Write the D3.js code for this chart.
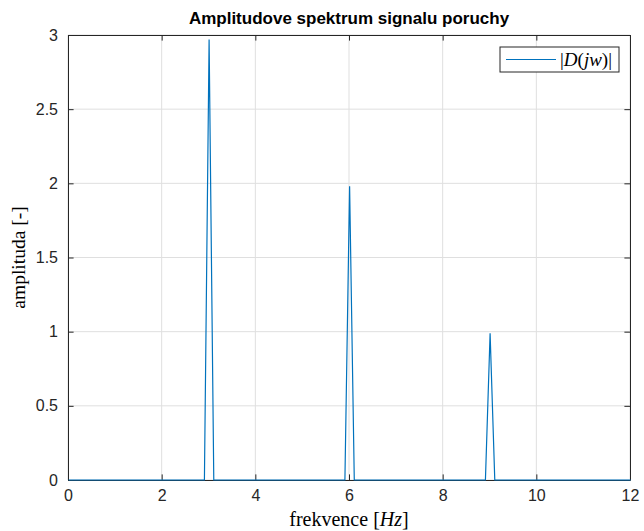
<!DOCTYPE html>
<html><head><meta charset="utf-8">
<script src="https://cdn.jsdelivr.net/npm/d3@7"></script>
<style>body{margin:0;background:#fff}svg{display:block}</style>
</head><body>
<script>
const freq = [0, 2.9, 3.0, 3.1, 5.9, 6.0, 6.1, 8.9, 9.0, 9.1, 12];
const ampl = [0, 0, 2.97, 0, 0, 1.98, 0, 0, 0.99, 0, 0];
const xTicks = [0, 2, 4, 6, 8, 10, 12];
const yTicks = [0, 0.5, 1, 1.5, 2, 2.5, 3];
const yTickLabels = ["0", "0.5", "1", "1.5", "2", "2.5", "3"];

const W = 644, H = 531;
const m = {l: 68, r: 14, t: 35, b: 51};
const svg = d3.select("body").append("svg").attr("width", W).attr("height", H);
const x = d3.scaleLinear().domain([0, 12]).range([m.l, W - m.r]);
const y = d3.scaleLinear().domain([0, 3]).range([H - m.b, m.t]);
const ax = "#262626";

// grid
const g = svg.append("g");
g.selectAll(".gx").data(xTicks).enter().append("line")
  .attr("x1", d => x(d)).attr("x2", d => x(d)).attr("y1", y(0)).attr("y2", y(3))
  .attr("stroke", "#dfdfdf").attr("stroke-width", 1);
g.selectAll(".gy").data(yTicks).enter().append("line")
  .attr("y1", d => y(d)).attr("y2", d => y(d)).attr("x1", x(0)).attr("x2", x(12))
  .attr("stroke", "#dfdfdf").attr("stroke-width", 1);

// axes
const xa = svg.append("g").attr("transform", `translate(0,${y(0)})`)
  .call(d3.axisBottom(x).tickValues(xTicks).tickSizeInner(-5.6).tickSizeOuter(0).tickPadding(10));
const xt = svg.append("g").attr("transform", `translate(0,${y(3)})`)
  .call(d3.axisTop(x).tickValues(xTicks).tickSizeInner(-5.6).tickSizeOuter(0).tickFormat(""));
const ya = svg.append("g").attr("transform", `translate(${x(0)},0)`)
  .call(d3.axisLeft(y).tickValues(yTicks).tickSizeInner(-5.6).tickSizeOuter(0).tickPadding(10)
    .tickFormat((d, i) => yTickLabels[i]));
const yr = svg.append("g").attr("transform", `translate(${x(12)},0)`)
  .call(d3.axisRight(y).tickValues(yTicks).tickSizeInner(-5.6).tickSizeOuter(0).tickFormat(""));
[xa, xt, ya, yr].forEach(a => {
  a.selectAll("path").attr("stroke", ax).attr("stroke-width", 1);
  a.selectAll("line").attr("stroke", ax).attr("stroke-width", 1);
  a.selectAll("text").attr("fill", ax).attr("font-family", "Liberation Sans, Arial, sans-serif").attr("font-size", 16);
});
xa.selectAll("text").attr("dy", "0.71em");

// line
svg.append("path").datum(freq.map((f, i) => [f, ampl[i]]))
  .attr("d", d3.line().x(d => x(d[0]) + 0.6).y(d => y(d[1])))
  .attr("fill", "none").attr("stroke", "#0072BD").attr("stroke-width", 1.2);

// title
svg.append("text").attr("x", (x(0) + x(12)) / 2).attr("y", 24).attr("text-anchor", "middle")
  .attr("font-family", "Liberation Sans, Arial, sans-serif").attr("font-weight", "bold")
  .attr("font-size", 17).attr("fill", "#000").text("Amplitudove spektrum signalu poruchy");

// x label
const xl = svg.append("text").attr("x", (x(0) + x(12)) / 2).attr("y", 526).attr("text-anchor", "middle")
  .attr("font-family", "Liberation Serif, serif").attr("font-size", 20).attr("fill", "#000");
xl.append("tspan").text("frekvence ");
xl.append("tspan").text("[");
xl.append("tspan").attr("font-style", "italic").text("Hz");
xl.append("tspan").text("]");

// y label
svg.append("text").attr("transform", `translate(25,${(y(0) + y(3)) / 2}) rotate(-90)`).attr("text-anchor", "middle")
  .attr("font-family", "Liberation Serif, serif").attr("font-size", 19.5).attr("fill", "#000")
  .text("amplituda [-]");

// legend
const lg = svg.append("g");
lg.append("rect").attr("x", 500).attr("y", 47).attr("width", 119).attr("height", 25)
  .attr("fill", "#fff").attr("stroke", ax).attr("stroke-width", 1);
lg.append("line").attr("x1", 506).attr("x2", 556).attr("y1", 59.5).attr("y2", 59.5)
  .attr("stroke", "#0072BD").attr("stroke-width", 1.2);
const lt = lg.append("text").attr("x", 560).attr("y", 65.5).attr("font-family", "Liberation Serif, serif")
  .attr("font-size", 19).attr("fill", "#000");
lt.append("tspan").text("|");
lt.append("tspan").attr("font-style", "italic").text("D");
lt.append("tspan").text("(");
lt.append("tspan").attr("font-style", "italic").text("jw");
lt.append("tspan").text(")|");
</script>
</body></html>
